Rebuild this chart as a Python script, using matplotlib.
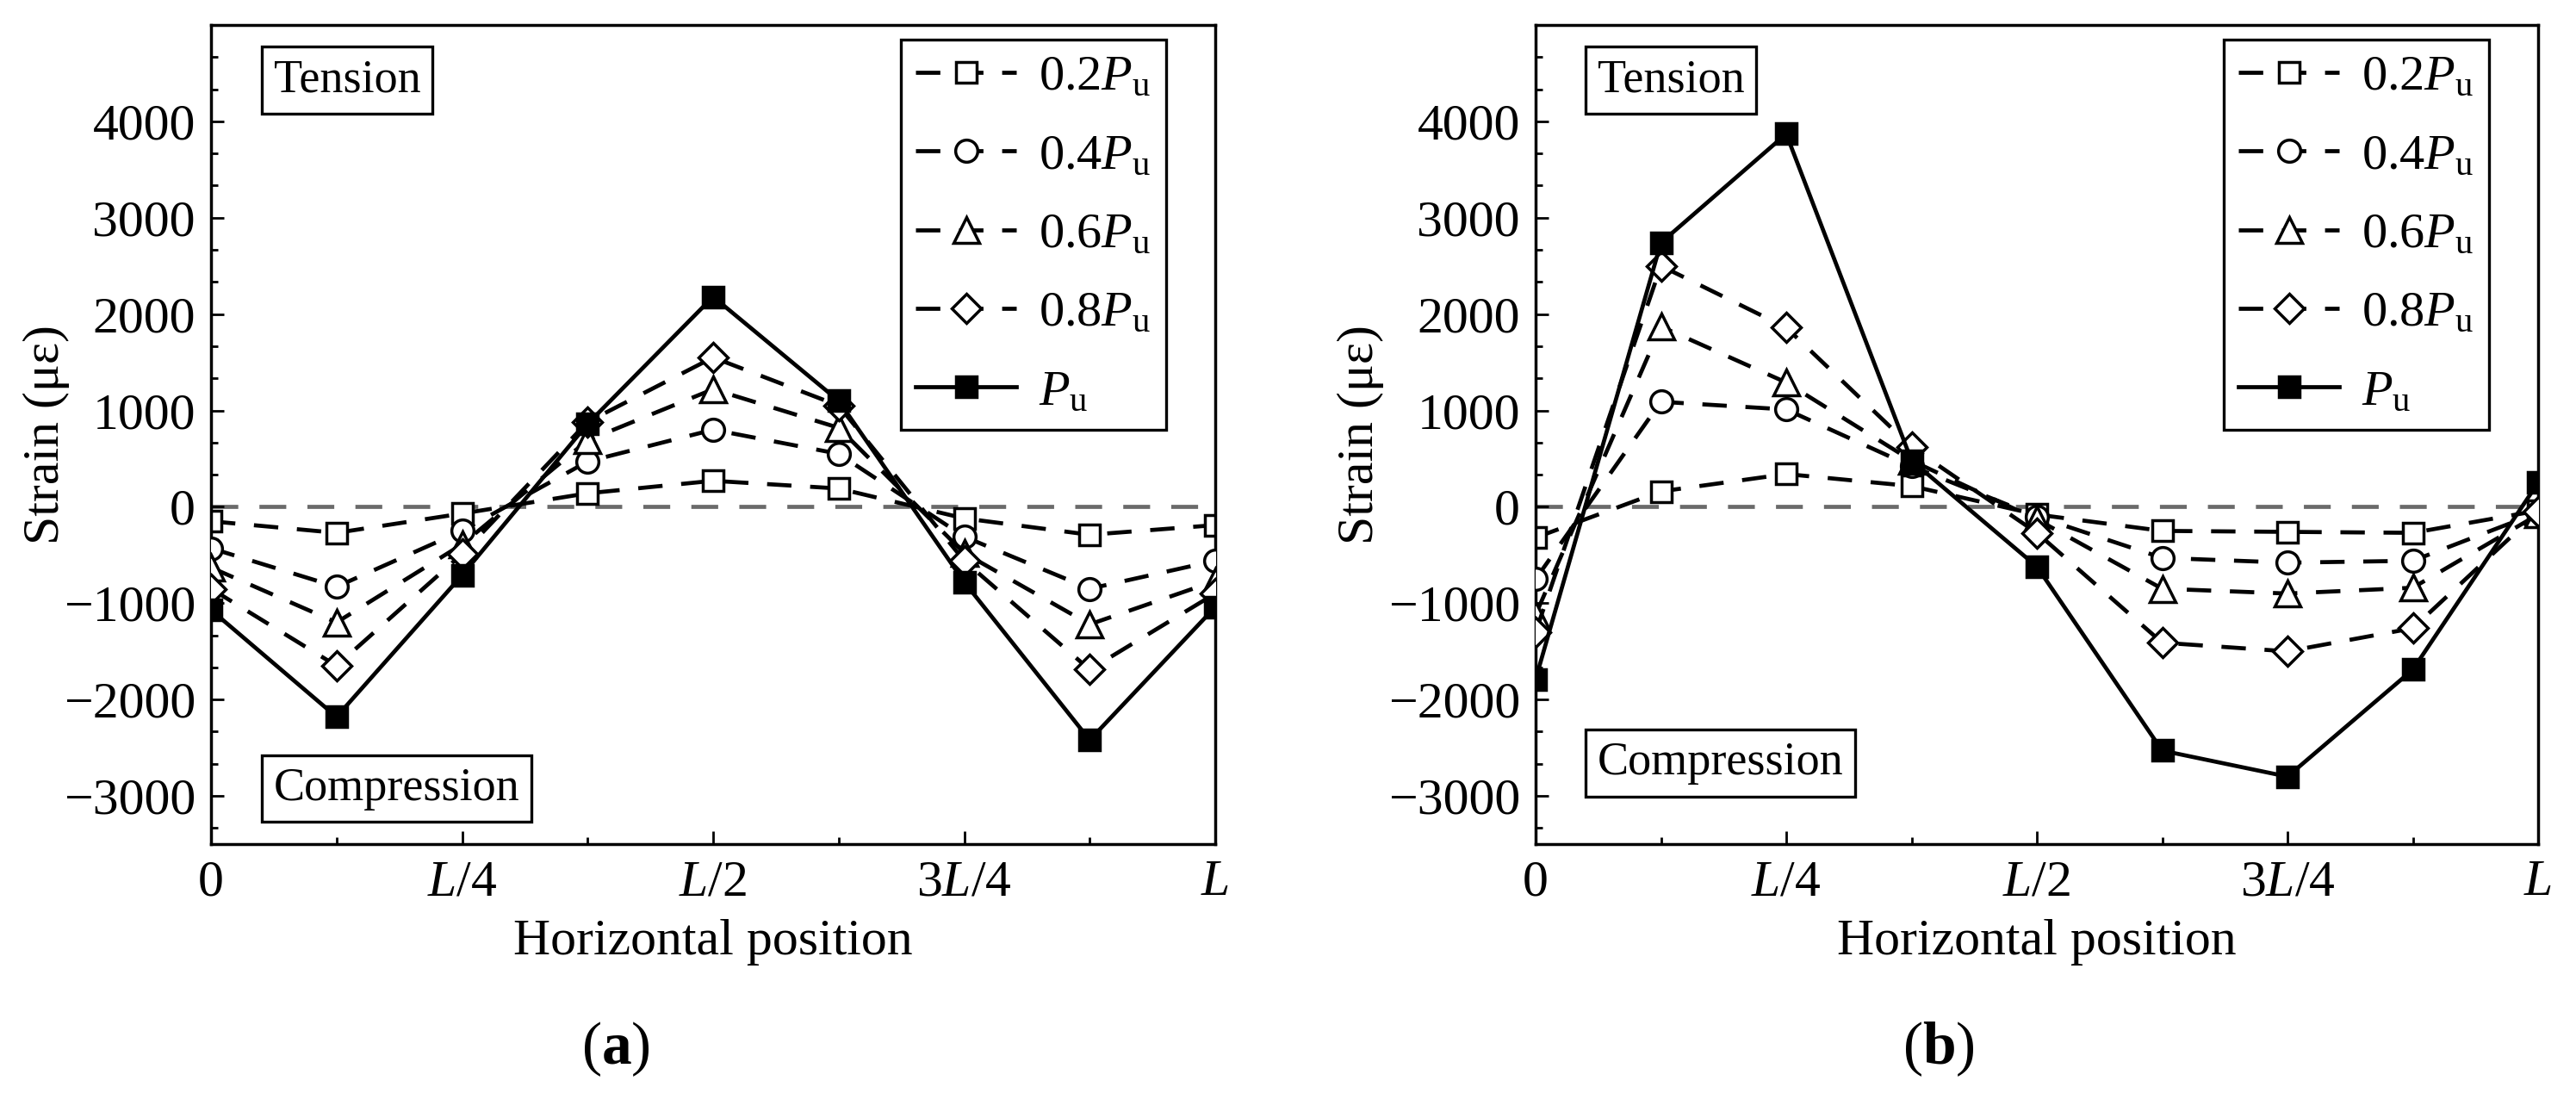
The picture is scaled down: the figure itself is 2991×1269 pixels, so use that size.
import matplotlib
matplotlib.use('Agg')
import matplotlib.pyplot as plt
from matplotlib.ticker import FixedLocator, MultipleLocator, AutoMinorLocator

# ---------------- data ----------------
positions = [0, 1, 2, 3, 4, 5, 6, 7, 8]          # gauge positions in units of L/8
x_major = [0, 2, 4, 6, 8]
x_tick_labels = ['0', '$L$/4', '$L$/2', '3$L$/4', '$L$']
y_major = [-3000, -2000, -1000, 0, 1000, 2000, 3000, 4000]
series_labels = [r'0.2$P_\mathrm{u}$', r'0.4$P_\mathrm{u}$', r'0.6$P_\mathrm{u}$',
                 r'0.8$P_\mathrm{u}$', r'$P_\mathrm{u}$']

# panel (a)
a_02 = [-150, -270, -70, 140, 270, 190, -120, -290, -190]
a_04 = [-430, -830, -250, 470, 800, 550, -310, -850, -560]
a_06 = [-630, -1200, -390, 690, 1220, 820, -480, -1220, -770]
a_08 = [-850, -1650, -490, 880, 1550, 1050, -560, -1690, -900]
a_pu = [-1070, -2180, -710, 860, 2180, 1100, -780, -2420, -1040]

# panel (b)
b_02 = [-320, 160, 340, 215, -80, -250, -260, -270, -40]
b_04 = [-750, 1090, 1010, 420, -100, -530, -580, -560, -60]
b_06 = [-1120, 1870, 1290, 480, -130, -850, -900, -840, -80]
b_08 = [-1300, 2500, 1860, 620, -270, -1410, -1500, -1260, -50]
b_pu = [-1790, 2740, 3870, 480, -620, -2530, -2800, -1690, 250]

# ---------------- style ----------------
plt.rcParams.update({
    'font.family': ['Liberation Serif', 'DejaVu Serif'],
    'mathtext.fontset': 'custom',
    'mathtext.rm': 'Liberation Serif',
    'mathtext.it': 'Liberation Serif:italic',
    'mathtext.bf': 'Liberation Serif:bold',
    'axes.linewidth': 2.5,
})

W, H = 2991, 1269
fig = plt.figure(figsize=(W / 100, H / 100), dpi=100)

markers = ['s', 'o', '^', 'D', 's']
msizes = [17.5, 18.5, 21, 17.5, 17.5]
faces = ['white', 'white', 'white', 'white', 'black']
dash = (0, (6, 4.6))
styles = [dash, dash, dash, dash, '-']


def make_panel(rect, data, ylab_x, tension_xy, comp_xy):
    ax = fig.add_axes(rect)
    ax.axhline(0, color='#6a6a6a', lw=3.4, ls=(0, (6.6, 5.2)), zorder=1)
    for i, vals in enumerate(data):
        ax.plot(positions, vals, color='black', lw=3.4, ls=styles[i],
                marker=markers[i], ms=msizes[i], mfc=faces[i], mec='black',
                mew=2.5, label=series_labels[i], zorder=2 + i)
    ax.set_xlim(0, 8)
    ax.set_ylim(-3500, 5000)
    ax.xaxis.set_major_locator(FixedLocator(x_major))
    ax.xaxis.set_minor_locator(MultipleLocator(1))
    ax.set_xticklabels(x_tick_labels)
    ax.yaxis.set_major_locator(FixedLocator(y_major))
    ax.yaxis.set_minor_locator(AutoMinorLocator(3))
    ax.tick_params(which='both', direction='in', top=False, right=False,
                   labelsize=43, width=2, pad=13)
    ax.tick_params(which='major', length=11)
    ax.tick_params(which='minor', length=6)
    ax.set_ylabel('Strain (με)', fontsize=43)
    ax.yaxis.set_label_coords(ylab_x, 0.5)
    ax.set_xlabel('Horizontal position', fontsize=43)
    ax.xaxis.set_label_coords(0.5, -0.0915)
    box = dict(boxstyle='square,pad=0.25', fc='white', ec='black', lw=2.4)
    ax.text(*tension_xy, 'Tension', transform=ax.transAxes, ha='center',
            va='center', fontsize=39, bbox=box, zorder=10)
    ax.text(*comp_xy, 'Compression', transform=ax.transAxes, ha='center',
            va='center', fontsize=39, bbox=box, zorder=10)
    leg = ax.legend(loc='upper right', bbox_to_anchor=(0.951, 0.982),
                    borderaxespad=0, frameon=True, fancybox=False,
                    edgecolor='black', framealpha=1, fontsize=42,
                    handlelength=2.0, handletextpad=0.45, labelspacing=0.66,
                    borderpad=0.3)
    leg.get_frame().set_linewidth(2.4)
    return ax


make_panel([245 / W, 1 - 980 / H, 1166 / W, 951 / H],
           [a_02, a_04, a_06, a_08, a_pu], -0.141,
           (0.1355, 0.9327), (0.185, 0.068))
make_panel([1783 / W, 1 - 980 / H, 1164 / W, 951 / H],
           [b_02, b_04, b_06, b_08, b_pu], -0.151,
           (0.135, 0.9327), (0.184, 0.099))

fig.text(715 / W, 1 - 1218 / H, r'($\mathbf{a}$)', ha='center', va='center', fontsize=50)
fig.text(2251 / W, 1 - 1218 / H, r'($\mathbf{b}$)', ha='center', va='center', fontsize=50)

fig.savefig('out.png', dpi=100)
